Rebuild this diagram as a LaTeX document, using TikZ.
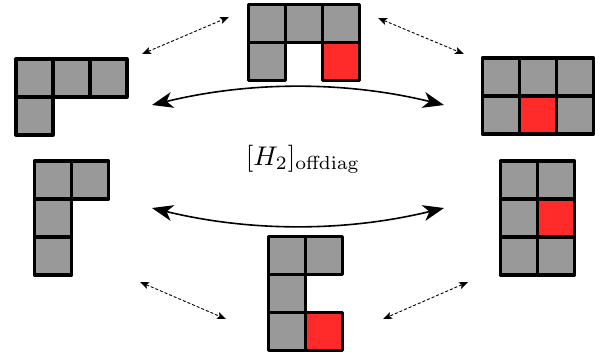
\documentclass[tikz,border=0pt]{standalone}
\usetikzlibrary{arrows.meta}
\definecolor{cgray}{RGB}{153,153,153}
\definecolor{cred}{RGB}{255,42,42}
\tikzset{
  cell/.style={draw=black, line width=3.3pt, line join=round, minimum width=37pt, minimum height=38pt, inner sep=0pt, outer sep=0pt},
  gcell/.style={cell, fill=cgray},
  rcell/.style={cell, fill=cred},
  bigarrow/.style={line width=1.6pt, {Stealth[length=21pt,width=16pt,inset=6pt]}-{Stealth[length=21pt,width=16pt,inset=6pt]}},
  dasharrow/.style={line width=0.9pt, dash pattern=on 3pt off 2pt, {Stealth[length=9pt,width=7pt,inset=2pt]}-{Stealth[length=9pt,width=7pt,inset=2pt]}}
}
\begin{document}
\begin{tikzpicture}[x=1pt,y=-1pt]
\useasboundingbox (0,0) rectangle (607,360);
% top middle
\node[gcell] (tm11) at (267,23.5) {};
\node[gcell] (tm12) at (304,23.5) {};
\node[gcell] (tm13) at (341,23.5) {};
\node[gcell] (tm21) at (267,61.5) {};
\node[rcell] (tm23) at (341,61.5) {};
% left top
\node[gcell] (lt11) at (34.5,78) {};
\node[gcell] (lt12) at (71.5,78) {};
\node[gcell] (lt13) at (108.5,78) {};
\node[gcell] (lt21) at (34.5,116) {};
% right top
\node[gcell] (rt11) at (501,77) {};
\node[gcell] (rt12) at (538,77) {};
\node[gcell] (rt13) at (575,77) {};
\node[gcell] (rt21) at (501,115) {};
\node[gcell] (rt23) at (575,115) {};
\node[rcell] (rt22) at (538,115) {};
% left bottom
\node[gcell] (lb11) at (53,180) {};
\node[gcell] (lb12) at (90,180) {};
\node[gcell] (lb21) at (53,218) {};
\node[gcell] (lb31) at (53,256) {};
% right bottom
\node[gcell] (rb11) at (519,180) {};
\node[gcell] (rb12) at (556,180) {};
\node[gcell] (rb21) at (519,218) {};
\node[gcell] (rb31) at (519,256) {};
\node[gcell] (rb32) at (556,256) {};
\node[rcell] (rb22) at (556,218) {};
% bottom middle
\node[gcell] (bm11) at (287,255.5) {};
\node[gcell] (bm12) at (324,255.5) {};
\node[gcell] (bm21) at (287,293.5) {};
\node[gcell] (bm31) at (287,331.5) {};
\node[rcell] (bm32) at (324,331.5) {};
% label
\node[scale=2.7, inner sep=0pt] (lab) at (303,159) {$[H_2]_{\mathrm{offdiag}}$};
% arrow end points
\coordinate (ua) at (152,105);
\coordinate (ub) at (444,105);
\coordinate (la) at (152,208);
\coordinate (lb) at (444,208);
\coordinate (tla) at (142,54);
\coordinate (tlb) at (229,17);
\coordinate (tra) at (378,18);
\coordinate (trb) at (464,54);
\coordinate (bla) at (140,282);
\coordinate (blb) at (226,319);
\coordinate (bra) at (468,282);
\coordinate (brb) at (383,319);
\draw[bigarrow] (ua) .. controls (250,81) and (346,81) .. (ub);
\draw[bigarrow] (la) .. controls (250,232) and (346,232) .. (lb);
\draw[dasharrow] (tla) -- (tlb);
\draw[dasharrow] (tra) -- (trb);
\draw[dasharrow] (bla) -- (blb);
\draw[dasharrow] (bra) -- (brb);
\end{tikzpicture}
\end{document}
